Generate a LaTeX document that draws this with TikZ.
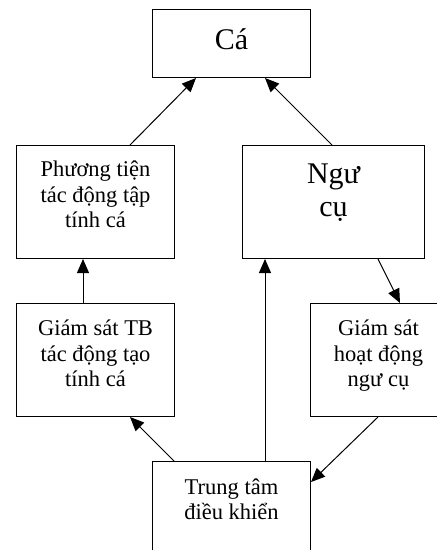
\documentclass[tikz,border=0pt]{standalone}
\usepackage{fontspec}
\setmainfont{Liberation Serif}
\usetikzlibrary{arrows.meta}
\tikzset{
  box/.style={draw, line width=1pt, anchor=north west, inner sep=0pt},
  txt/.style={anchor=north, inner sep=0pt, align=center, font=\fontsize{22.5}{25.5}\selectfont},
  big/.style={txt, font=\fontsize{30}{33.5}\selectfont},
  arr/.style={-{Triangle[length=14pt,width=12pt]}, line width=1pt}
}
\begin{document}
\begin{tikzpicture}[x=1pt,y=-1pt]
\useasboundingbox (0,0) rectangle (437,550);
\clip (0,0) rectangle (437,550);
%-------------- boxes --------------------
\node[box, minimum width=158, minimum height=68] (ca) at (152,9) {};
\node[box, minimum width=158, minimum height=113] (ptien) at (16,145) {};
\node[box, minimum width=182, minimum height=113] (ngucu) at (242,145) {};
\node[box, minimum width=158, minimum height=113] (gstb) at (16,303) {};
\node[box, minimum width=136, minimum height=113] (gshd) at (310,303) {};
\node[box, minimum width=158, minimum height=110] (ttdk) at (152,461) {};

%-------------- texts --------------------
\node[big] (ca-t) at ([yshift=-19]ca.north) {Cá};
\node[txt] (ptien-t) at ([yshift=-16]ptien.north) {Phương tiện\\tác động tập\\tính cá};
\node[big] (ngucu-t) at ([yshift=-18.5]ngucu.north) {Ngư\\cụ};
\node[txt] (gstb-t) at ([yshift=-17]gstb.north) {Giám sát TB\\tác động tạo\\tính cá};
\node[txt] (gshd-t) at ([yshift=-17]gshd.north) {Giám sát\\hoạt động\\ngư cụ};
\node[txt] (ttdk-t) at ([yshift=-17.5]ttdk.north) {Trung tâm\\điều khiển};

%-------------- arrows --------------------
\draw[arr] ([xshift=114]ptien.north west) -- ([xshift=44]ca.south west);
\draw[arr] ([xshift=90]ngucu.north west) -- ([xshift=113]ca.south west);
\draw[arr] ([xshift=67]gstb.north west) -- ([xshift=67]ptien.south west);
\draw[arr] ([xshift=113]ttdk.north west) -- ([xshift=23]ngucu.south west);
\draw[arr] ([xshift=136]ngucu.south west) -- ([xshift=90]gshd.north west);
\draw[arr] ([xshift=68]gshd.south west) -- ([yshift=-21]ttdk.north east);
\draw[arr] ([xshift=22]ttdk.north west) -- ([xshift=114]gstb.south west);

\end{tikzpicture}
\end{document}
